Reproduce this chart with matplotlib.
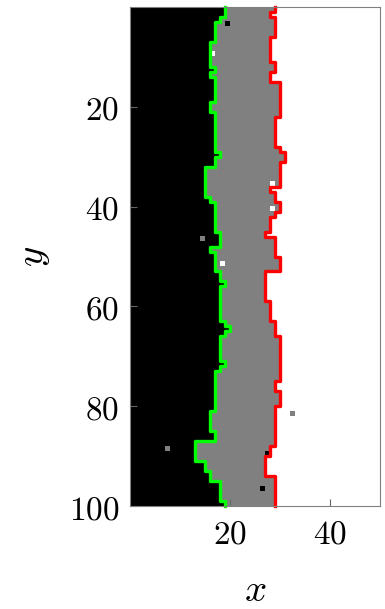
import numpy as np
import matplotlib
matplotlib.use("Agg")
import matplotlib.pyplot as plt

plt.rcParams['mathtext.fontset'] = 'cm'

# left (green) and right (red) edge of the middle phase, one value per row
left_edge = [19, 19, 18, 17, 17, 17, 17, 16, 16, 16,
             16, 16, 17, 16, 17, 17, 17, 17, 17, 16,
             16, 17, 17, 17, 17, 17, 17, 17, 17, 18,
             17, 17, 15, 15, 15, 15, 15, 15, 16, 17,
             17, 17, 17, 17, 17, 18, 18, 18, 16, 17,
             17, 17, 17, 18, 18, 19, 18, 18, 18, 18,
             18, 18, 18, 19, 20, 19, 18, 18, 18, 18,
             18, 19, 18, 17, 17, 17, 17, 17, 17, 17,
             17, 16, 16, 16, 16, 17, 17, 13, 13, 13,
             13, 15, 15, 16, 16, 18, 18, 18, 18, 19]
right_edge = [29, 28, 29, 29, 29, 29, 28, 28, 28, 28,
              28, 29, 29, 28, 28, 30, 30, 30, 30, 30,
              30, 30, 29, 29, 29, 29, 29, 29, 30, 31,
              31, 30, 30, 30, 30, 30, 28, 29, 29, 30,
              30, 29, 28, 28, 28, 27, 29, 29, 29, 29,
              30, 30, 30, 27, 27, 27, 27, 27, 27, 28,
              28, 28, 28, 29, 29, 29, 30, 30, 30, 30,
              30, 30, 30, 30, 30, 29, 29, 30, 30, 30,
              29, 29, 29, 29, 29, 29, 29, 29, 28, 28,
              27, 27, 27, 27, 29, 29, 29, 29, 29, 29]

# isolated sites that differ from their surroundings
defect_x = [19, 16, 28, 28, 14, 18, 32, 7, 27, 26]
defect_y = [3, 9, 35, 40, 46, 51, 81, 88, 89, 96]
defect_val = [0.0, 1.0, 1.0, 1.0, 0.5, 1.0, 0.5, 0.5, 0.0, 0.0]

nx, ny = 50, 100
xticks = [20, 40]
yticks = [20, 40, 60, 80, 100]

cols = np.arange(nx)
field = np.ones((ny, nx))
for j in range(ny):
    field[j, cols < right_edge[j]] = 0.5
    field[j, cols < left_edge[j]] = 0.0
for x, y, v in zip(defect_x, defect_y, defect_val):
    field[y, x] = v

fig = plt.figure(figsize=(3.85, 6.09), dpi=100)
ax = fig.add_axes([0.3377, 0.1691, 0.6494, 0.8194])
ax.imshow(field, cmap='gray', vmin=0, vmax=1, interpolation='nearest',
          extent=(0, nx, ny, 0), aspect='equal')

# staircase outline of each interface
rows = np.arange(ny)
ys = np.column_stack([rows, rows + 1]).ravel()
ax.plot(np.repeat(left_edge, 2), ys, color='#00ff00', lw=2.4, clip_on=False)
ax.plot(np.repeat(right_edge, 2), ys, color='#ff0000', lw=2.4, clip_on=False)

ax.set_xlim(0, nx)
ax.set_ylim(ny, 0)
ax.set_xticks(xticks, labels=[f'${t}$' for t in xticks])
ax.set_yticks(yticks, labels=[f'${t}$' for t in yticks])
ax.tick_params(direction='in', length=5, color='0.4', labelsize=24, pad=8)
for s in ax.spines.values():
    s.set_color('0.5')
ax.set_xlabel('$x$', fontsize=28, labelpad=15)
ax.set_ylabel('$y$', fontsize=28, labelpad=12)

fig.savefig('out.png', dpi=100)
